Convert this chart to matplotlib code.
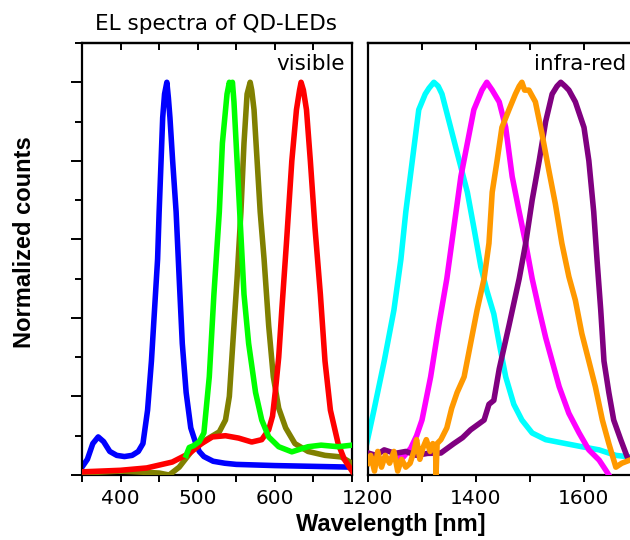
import matplotlib
matplotlib.use("Agg")
import matplotlib.pyplot as plt
from matplotlib.ticker import MultipleLocator, FixedLocator

# ---------------- data ----------------
blue_x = [350, 357, 364, 371, 378, 386, 395, 405, 415, 423, 429, 435, 440, 444, 448, 450, 452.5, 454.6,
          457, 460, 462, 464, 467.5, 472, 476, 480, 485, 491, 497.6, 502, 508, 520, 535, 550, 600, 650, 700]
blue_y = [0.02, 0.04, 0.08, 0.097, 0.085, 0.06, 0.05, 0.047, 0.05, 0.06, 0.08, 0.165, 0.29, 0.42, 0.55, 0.67, 0.80, 0.91,
          0.97, 1.0, 0.96, 0.91, 0.80, 0.67, 0.50, 0.335, 0.21, 0.12, 0.08, 0.06, 0.047, 0.035, 0.03, 0.027, 0.024, 0.022, 0.02]

green_x = [485, 489, 495, 502, 508, 515, 521, 528, 532, 538, 541, 543, 545, 547, 551, 555.5, 560, 566,
           575, 583, 592, 605, 622, 643, 660, 682, 700]
green_y = [0.05, 0.07, 0.075, 0.085, 0.107, 0.25, 0.46, 0.67, 0.845, 0.97, 1.0, 0.985, 1.0, 0.95, 0.80, 0.63, 0.46, 0.335,
           0.21, 0.14, 0.097, 0.072, 0.059, 0.072, 0.076, 0.072, 0.076]

olive_x = [350, 400, 450, 463, 476, 493, 511, 528, 536, 541, 544, 551, 556, 560, 564, 568, 570, 573, 577, 581, 586,
           592, 598, 605, 614, 626, 643, 665, 686, 700]
olive_y = [0.005, 0.01, 0.005, 0.0, 0.02, 0.063, 0.09, 0.11, 0.14, 0.2, 0.29, 0.50, 0.67, 0.845, 0.97, 1.0, 0.98, 0.93,
           0.80, 0.67, 0.55, 0.38, 0.25, 0.17, 0.12, 0.08, 0.06, 0.05, 0.046, 0.03]

red_x = [350, 400, 434, 467, 489, 505, 519, 536, 553, 570, 583, 592, 597, 601, 605, 609, 615, 622, 628, 632, 634, 637,
         641, 646, 652, 659, 665, 672, 682, 690, 700]
red_y = [0.008, 0.012, 0.018, 0.033, 0.055, 0.08, 0.097, 0.10, 0.094, 0.084, 0.09, 0.115, 0.15, 0.22, 0.30, 0.42, 0.59,
         0.80, 0.93, 0.98, 1.0, 0.98, 0.93, 0.80, 0.63, 0.46, 0.29, 0.165, 0.08, 0.04, 0.01]

cyan_x = [1196, 1211, 1230, 1248, 1261, 1270, 1282, 1294, 1306, 1313, 1322, 1330, 1337, 1353, 1369, 1384, 1396, 1409,
          1420, 1433, 1443, 1455, 1470, 1485, 1504, 1529, 1566, 1596, 1628, 1659, 1685]
cyan_y = [0.07, 0.165, 0.29, 0.42, 0.55, 0.67, 0.80, 0.93, 0.97, 0.985, 1.0, 0.99, 0.97, 0.885, 0.80, 0.72, 0.63, 0.53,
          0.47, 0.41, 0.335, 0.25, 0.18, 0.14, 0.107, 0.09, 0.08, 0.072, 0.064, 0.05, 0.046]

magenta_x = [1200, 1240, 1265, 1279, 1290, 1300, 1316, 1331, 1346, 1359, 1372, 1384, 1396, 1411, 1420, 1430, 1443,
             1455, 1467, 1480, 1492, 1504, 1517, 1529, 1541, 1554, 1572, 1591, 1609, 1628, 1640, 1646]
magenta_y = [0.04, 0.04, 0.045, 0.068, 0.10, 0.14, 0.25, 0.38, 0.50, 0.63, 0.76, 0.845, 0.93, 0.98, 1.0, 0.98, 0.95,
             0.885, 0.76, 0.67, 0.59, 0.50, 0.42, 0.35, 0.29, 0.225, 0.157, 0.107, 0.064, 0.038, 0.013, 0.0]

orange_x = [1200, 1205, 1212, 1218, 1225, 1232, 1240, 1248, 1255, 1262, 1270, 1278, 1285, 1290, 1296, 1302, 1308,
            1315, 1320, 1325, 1326, 1328, 1335, 1346, 1355, 1365, 1378, 1390, 1402, 1415, 1424, 1430, 1439, 1448,
            1461, 1473, 1480, 1485, 1490, 1498, 1510, 1522, 1535, 1547, 1559, 1572, 1584, 1596, 1609, 1621, 1634,
            1646, 1659, 1670, 1685]
orange_y = [0.03, 0.05, 0.01, 0.06, 0.02, 0.05, 0.03, 0.06, 0.01, 0.04, 0.02, 0.03, 0.06, 0.09, 0.04, 0.07, 0.09,
            0.06, 0.08, 0.07, 0.0, 0.08, 0.09, 0.12, 0.17, 0.21, 0.25, 0.335, 0.42, 0.50, 0.59, 0.72, 0.80, 0.885,
            0.93, 0.97, 0.99, 1.0, 0.98, 0.98, 0.95, 0.87, 0.775, 0.69, 0.59, 0.505, 0.445, 0.36, 0.29, 0.225, 0.14,
            0.08, 0.02, 0.03, 0.038]

purple_x = [1200, 1215, 1230, 1250, 1270, 1290, 1310, 1335, 1359, 1375, 1390, 1415, 1424, 1433, 1443, 1461, 1480,
            1492, 1504, 1517, 1529, 1541, 1550, 1557, 1565, 1572, 1584, 1600, 1609, 1618, 1624, 1631, 1637, 1646,
            1655, 1668, 1680, 1685]
purple_y = [0.056, 0.05, 0.064, 0.055, 0.06, 0.05, 0.055, 0.056, 0.08, 0.095, 0.115, 0.14, 0.18, 0.19, 0.27, 0.38,
            0.50, 0.59, 0.70, 0.80, 0.90, 0.97, 0.99, 1.0, 0.99, 0.98, 0.95, 0.885, 0.80, 0.67, 0.55, 0.42, 0.29,
            0.21, 0.14, 0.09, 0.046, 0.04]

left_ticks = [400, 500, 600]
right_ticks = [1200, 1400, 1600]

# ---------------- figure ----------------
fig = plt.figure(figsize=(6.3, 5.4), dpi=100)
H0, H1 = 65 / 540, 497 / 540
axL = fig.add_axes([82 / 630, H0, 270 / 630, H1 - H0])
axR = fig.add_axes([368 / 630, H0, 262 / 630, H1 - H0])

lw = 4.0
axL.plot(blue_x, blue_y, color="#0000ff", lw=lw, zorder=2)
axL.plot(olive_x, olive_y, color="#808000", lw=lw, zorder=3)
axL.plot(red_x, red_y, color="#ff0000", lw=lw, zorder=4)
axL.plot(green_x, green_y, color="#00ff00", lw=lw, zorder=5)

axR.plot(cyan_x, cyan_y, color="#00ffff", lw=lw, zorder=2)
axR.plot(magenta_x, magenta_y, color="#ff00ff", lw=lw, zorder=3)
axR.plot(purple_x, purple_y, color="#800080", lw=lw, zorder=4)
axR.plot(orange_x, orange_y, color="#ff9900", lw=lw, zorder=5)

axL.set_xlim(350, 700)
axR.set_xlim(1200, 1200 + 262 / 0.54)
for ax in (axL, axR):
    ax.set_ylim(0, 1.1)
    for s in ax.spines.values():
        s.set_linewidth(1.6)
    ax.tick_params(axis="x", which="both", direction="out", length=5, width=1.4,
                   labelsize=14.5, pad=5)

axL.xaxis.set_major_locator(FixedLocator(left_ticks))
axL.xaxis.set_minor_locator(MultipleLocator(50))
axR.xaxis.set_major_locator(FixedLocator(right_ticks))
axR.xaxis.set_minor_locator(MultipleLocator(100))

# y ticks on left only, no labels
axL.yaxis.set_major_locator(MultipleLocator(0.2))
axL.yaxis.set_minor_locator(MultipleLocator(0.1))
axL.tick_params(axis="y", which="major", direction="out", length=8, width=1.4, labelleft=False)
axL.tick_params(axis="y", which="minor", direction="out", length=5, width=1.4)
axR.tick_params(axis="y", which="both", left=False, labelleft=False)
axR.spines["right"].set_visible(False)

# top ticks (inward, secondary)
for ax, minor in ((axL, 50), (axR, 100)):
    sec = ax.secondary_xaxis("top")
    sec.xaxis.set_major_locator(MultipleLocator(minor))
    sec.tick_params(direction="in", length=5, width=1.4, labeltop=False)
    sec.spines["top"].set_linewidth(1.6)

axL.text(0.975, 0.975, "visible", transform=axL.transAxes, ha="right", va="top", fontsize=15.5)
axR.text(0.985, 0.975, "infra-red", transform=axR.transAxes, ha="right", va="top", fontsize=15.5)

fig.text(216 / 630, 1 - 24 / 540, "EL spectra of QD-LEDs", ha="center", va="center", fontsize=15.5)
fig.text(25 / 630, 1 - 242 / 540, "Normalized counts", rotation=90, ha="center", va="center",
         fontsize=17, fontweight="bold", family="Liberation Sans")
fig.text(391 / 630, 1 - 524 / 540, "Wavelength [nm]", ha="center", va="center",
         fontsize=17, fontweight="bold", family="Liberation Sans")

fig.savefig("out.png", dpi=100)
